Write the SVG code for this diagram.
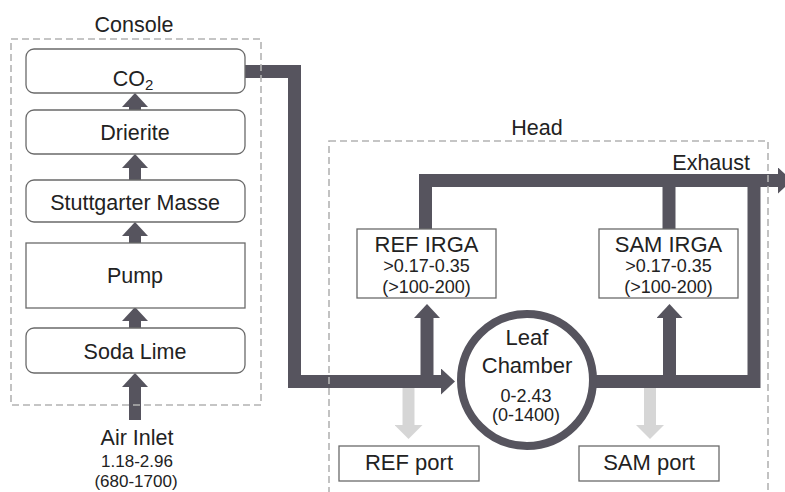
<svg xmlns="http://www.w3.org/2000/svg" width="785" height="492" viewBox="0 0 785 492">
<defs>
<style>
.box{fill:#fff;stroke:#6a6a6a;stroke-width:1.3}
.dash{fill:none;stroke:#b3b3b3;stroke-width:1.6;stroke-dasharray:7 4}
.pipe{fill:none;stroke:#56545e;stroke-width:13;stroke-linejoin:miter;stroke-linecap:butt}
.up{fill:none;stroke:#56545e;stroke-width:12}
.grey{fill:none;stroke:#d6d6d6;stroke-width:12}
text{font-family:"Liberation Sans",Arial,sans-serif;fill:#222;text-anchor:middle}
.lbl{font-size:21.5px}
.big{font-size:22px}
.num{font-size:18px}
</style>
<marker id="ah" markerUnits="userSpaceOnUse" viewBox="0 0 14 26" markerWidth="14" markerHeight="26" refX="0" refY="13" orient="auto">
<path d="M0,0 L14,13 L0,26 Z" fill="#56545e"/>
</marker>
<marker id="ahg" markerUnits="userSpaceOnUse" viewBox="0 0 14 28" markerWidth="14" markerHeight="28" refX="0" refY="14" orient="auto">
<path d="M0,0 L14,14 L0,28 Z" fill="#d6d6d6"/>
</marker>
</defs>

<g id="connectors">
<path class="up" d="M135,420 V387" marker-end="url(#ah)"/>
<path class="up" d="M135,328 V321" marker-end="url(#ah)"/>
<path class="up" d="M135,243 V236" marker-end="url(#ah)"/>
<path class="up" d="M135,180 V168" marker-end="url(#ah)"/>
<path class="up" d="M135,110 V107" marker-end="url(#ah)"/>
<path class="pipe" d="M245,71.5 H294.5 V381.5 H441" marker-end="url(#ah)"/>
<path class="pipe" d="M427,382 V318" marker-end="url(#ah)"/>
<path class="pipe" d="M425.5,229 V180.5 H778" marker-end="url(#ah)"/>
<path class="pipe" d="M669,229 V181"/>
<path class="pipe" d="M594,381.5 H754 V181"/>
<path class="pipe" d="M669.5,382 V318" marker-end="url(#ah)"/>
<path class="grey" d="M408.5,388 V425" marker-end="url(#ahg)"/>
<path class="grey" d="M650,388 V425" marker-end="url(#ahg)"/>
</g>

<g id="console">
<rect class="dash" x="11" y="39" width="250" height="366"/>
<text class="lbl" x="134" y="32">Console</text>
</g>
<g id="head">
<rect class="dash" x="329" y="141" width="439" height="370"/>
<text class="lbl" x="537" y="135">Head</text>
</g>

<g id="co2">
<rect class="box" x="26" y="49" width="219" height="44" rx="8"/>
<text class="lbl" x="133" y="86">CO<tspan font-size="15" dy="4">2</tspan></text>
</g>
<g id="drierite">
<rect class="box" x="26" y="110" width="219" height="44" rx="8"/>
<text class="lbl" x="135" y="140">Drierite</text>
</g>
<g id="stuttgarter">
<rect class="box" x="26" y="180" width="219" height="42" rx="8"/>
<text class="lbl" x="135" y="210">Stuttgarter Masse</text>
</g>
<g id="pump">
<rect class="box" x="26" y="243" width="219" height="65"/>
<text class="lbl" x="135" y="283">Pump</text>
</g>
<g id="sodalime">
<rect class="box" x="26" y="328" width="219" height="45" rx="8"/>
<text class="lbl" x="135" y="359">Soda Lime</text>
</g>
<g id="airinlet">
<text class="lbl" x="137" y="445">Air Inlet</text>
<text x="137" y="467" font-size="17">1.18-2.96</text>
<text x="136" y="487" font-size="17">(680-1700)</text>
</g>

<g id="refirga">
<rect class="box" x="357" y="229" width="139" height="69"/>
<text class="big" x="426.5" y="252">REF IRGA</text>
<text class="num" x="426.5" y="272">&gt;0.17-0.35</text>
<text class="num" x="426.5" y="293">(&gt;100-200)</text>
</g>
<g id="samirga">
<rect class="box" x="599" y="229" width="139" height="69"/>
<text class="big" x="668.5" y="252">SAM IRGA</text>
<text class="num" x="668.5" y="272">&gt;0.17-0.35</text>
<text class="num" x="668.5" y="293">(&gt;100-200)</text>
</g>
<g id="leafchamber">
<circle cx="527" cy="380" r="66" fill="#fff" stroke="#56545e" stroke-width="8"/>
<text class="big" x="527" y="345">Leaf</text>
<text class="big" x="527" y="373">Chamber</text>
<text class="num" x="526" y="402">0-2.43</text>
<text class="num" x="526" y="421">(0-1400)</text>
</g>
<g id="refport">
<rect class="box" x="339" y="446" width="140" height="35"/>
<text class="big" x="409" y="470">REF port</text>
</g>
<g id="samport">
<rect class="box" x="579" y="446" width="140" height="35"/>
<text class="big" x="649" y="470">SAM port</text>
</g>
<g id="exhaust">
<text class="lbl" x="750" y="170" style="text-anchor:end">Exhaust</text>
</g>
</svg>
